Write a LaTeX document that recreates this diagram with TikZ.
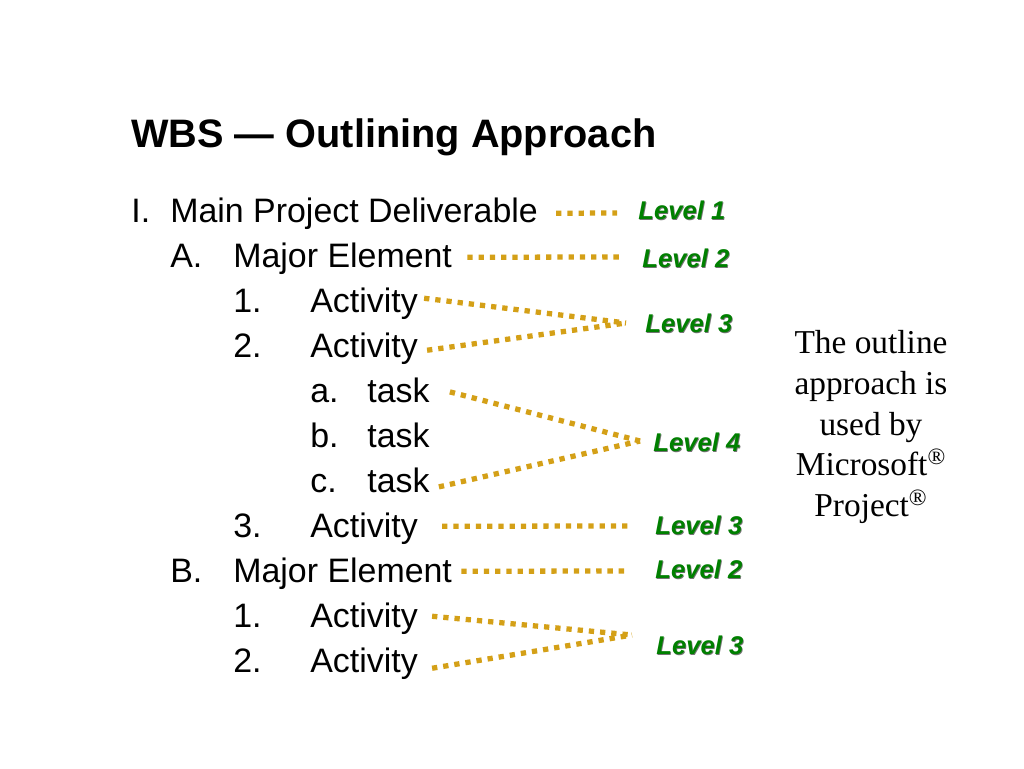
\documentclass[tikz,border=0pt]{standalone}
\usepackage{fontspec}
\setmainfont{Liberation Serif}
\setsansfont{Liberation Sans}
\usetikzlibrary{calc}
\definecolor{lvlgold}{RGB}{212,160,23}
\definecolor{lvlgreen}{RGB}{0,128,0}
\tikzset{
item/.style={font=\sffamily\fontsize{19.3}{23}\selectfont,anchor=base west,inner sep=0pt},
lvl/.style={font=\sffamily\bfseries\itshape\fontsize{14.6}{17}\selectfont,text=lvlgreen,anchor=west,inner sep=0pt},
dotline/.style={lvlgold,line width=3pt,dash pattern=on 3pt off 3.4pt},
}
\newcommand{\levlabel}[3]{\node[lvl,text=black!55,xshift=0.5pt,yshift=-0.5pt] at (#2) {#3};\node[lvl] (#1) at (#2) {#3};}

\begin{document}
\begin{tikzpicture}[x=0.02cm,y=-0.02cm]
\useasboundingbox[fill=white] (0,0) rectangle (1024,768);
\node[font=\sffamily\bfseries\fontsize{22.6}{27}\selectfont,anchor=base west,inner sep=0pt] (title) at (131,147) {WBS — Outlining Approach};
%outline
\node[item] (nI) at (131,222) {I.};\node[item] (deliv) at (170,222) {Main Project Deliverable};
\node[item] (nA) at (170,267) {A.};\node[item] (majA) at (233,267) {Major Element};
\node[item] (nA1) at (233,312) {1.};\node[item] (act1) at (310,312) {Activity};
\node[item] (nA2) at (233,357) {2.};\node[item] (act2) at (310,357) {Activity};
\node[item] (na) at (310,402) {a.};\node[item] (taskA) at (367,402) {task};
\node[item] (nb) at (310,447) {b.};\node[item] (taskB) at (367,447) {task};
\node[item] (nc) at (310,492) {c.};\node[item] (taskC) at (367,492) {task};
\node[item] (nA3) at (233,537) {3.};\node[item] (act3) at (310,537) {Activity};
\node[item] (nB) at (170,582) {B.};\node[item] (majB) at (233,582) {Major Element};
\node[item] (nB1) at (233,627) {1.};\node[item] (act4) at (310,627) {Activity};
\node[item] (nB2) at (233,672) {2.};\node[item] (act5) at (310,672) {Activity};
%levels
\levlabel{lev1}{638,210}{Level 1}
\levlabel{lev2}{642,258}{Level 2}
\levlabel{lev3a}{645,323}{Level 3}
\levlabel{lev4}{653,442}{Level 4}
\levlabel{lev3b}{655,525}{Level 3}
\levlabel{lev2b}{655,569}{Level 2}
\levlabel{lev3c}{656,645}{Level 3}
\coordinate (j3a) at (626,323);\coordinate (j4) at (640,441);\coordinate (j3c) at (632,635);
\draw[dotline] ($(deliv.east)+(18,0)$)--($(lev1.west)+(-21,3)$);
\draw[dotline] ($(majA.east)+(15,-1)$)--($(lev2.west)+(-20,-1)$);
\draw[dotline] ($(act1.east)+(6,-5)$)--(j3a);
\draw[dotline] ($(act2.east)+(9,2)$)--(j3a);
\draw[dotline] ($(taskA.east)+(20,2)$)--(j4);
\draw[dotline] ($(taskC.east)+(9,7)$)--(j4);
\draw[dotline] ($(act3.east)+(24,-2)$)--($(lev3b.west)+(-23,1)$);
\draw[dotline] ($(majB.east)+(9,-2)$)--($(lev2b.west)+(-27,2)$);
\draw[dotline] ($(act4.east)+(14,-2)$)--(j3c);
\draw[dotline] ($(act5.east)+(14,5)$)--(j3c);
%note
\node[font=\fontsize{19}{23.2}\selectfont,align=center,anchor=north,inner sep=0pt] (note) at (871,330) {The outline\\approach is\\used by\\Microsoft\textsuperscript{\textregistered}\\Project\textsuperscript{\textregistered}};
\end{tikzpicture}
\end{document}
